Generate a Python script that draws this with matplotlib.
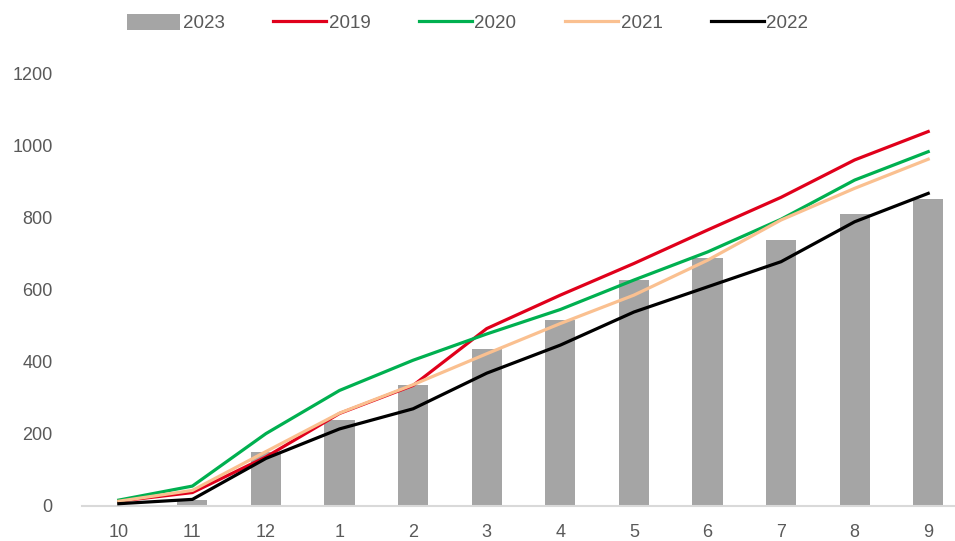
import matplotlib
matplotlib.use('Agg')
import matplotlib.pyplot as plt
import numpy as np

plt.rcParams['font.family'] = ['Liberation Sans', 'DejaVu Sans']

# 月份（10月起累计）
months = ['10', '11', '12', '1', '2', '3', '4', '5', '6', '7', '8', '9']

# 2023 柱状
v2023 = [0, 14, 148, 237, 334, 436, 515, 627, 689, 738, 810, 852]
# 折线
v2019 = [12, 36, 135, 256, 334, 492, 585, 673, 766, 857, 961, 1040]
v2020 = [15, 54, 200, 320, 404, 477, 545, 627, 705, 796, 905, 984]
v2021 = [12, 42, 150, 257, 336, 422, 506, 585, 682, 794, 882, 963]
v2022 = [5, 17, 131, 213, 269, 368, 446, 538, 608, 678, 789, 868]

x = np.arange(len(months))

fig = plt.figure(figsize=(9.55, 5.41), dpi=100)
ax = fig.add_axes([82 / 955, 35.5 / 541, 883 / 955, 431.5 / 541])

b = ax.bar(x, v2023, width=0.41, color='#A5A5A5', label='2023', zorder=1)
l1, = ax.plot(x, v2019, color='#E0001B', lw=2.3, label='2019', zorder=2)
l2, = ax.plot(x, v2020, color='#00B050', lw=2.3, label='2020', zorder=2)
l3, = ax.plot(x, v2021, color='#FAC090', lw=2.3, label='2021', zorder=2)
l4, = ax.plot(x, v2022, color='black', lw=2.3, label='2022', zorder=3)

ax.set_xlim(-0.5, len(months) - 0.5)
ax.set_ylim(0, 1200)
ax.set_yticks(range(0, 1201, 200))
ax.set_xticks(x)
ax.set_xticklabels(months)

for s in ['top', 'right', 'left']:
    ax.spines[s].set_visible(False)
ax.spines['bottom'].set_color('#D9D9D9')
ax.spines['bottom'].set_linewidth(1.5)
ax.tick_params(axis='both', length=0, labelsize=13, colors='#595959')
ax.tick_params(axis='y', pad=21)
ax.tick_params(axis='x', pad=13)

fig.legend([b, l1, l2, l3, l4], ['2023', '2019', '2020', '2021', '2022'],
           loc='upper center', bbox_to_anchor=(0.49, 1.005), ncol=5, frameon=False,
           fontsize=13.5, labelcolor='#595959', handlelength=2.8, handletextpad=0.15,
           columnspacing=2.6, handleheight=0.9)

plt.savefig('out.png', dpi=100)
